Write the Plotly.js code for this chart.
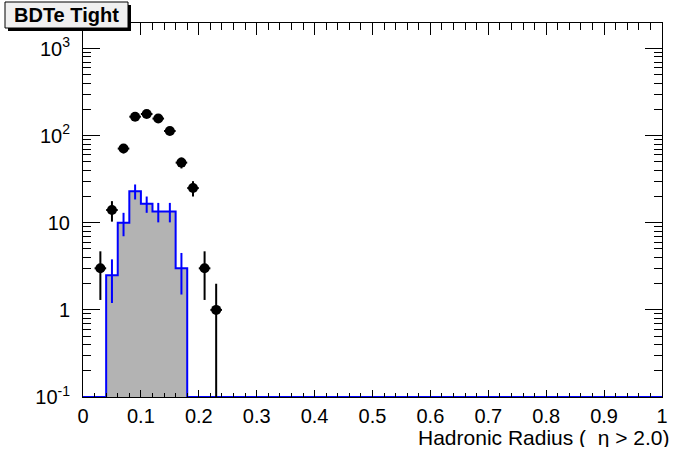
<!DOCTYPE html>
<html>
<head>
<meta charset="utf-8">
<script src="https://cdn.plot.ly/plotly-3.0.1.min.js"></script>
<style>html,body{margin:0;padding:0;background:#fff}#chart{width:696px;height:472px}</style>
</head>
<body>
<div id="chart"></div>
<script>
// ---- data ----
const histEdges = [0.04, 0.06, 0.08, 0.10, 0.12, 0.14, 0.16, 0.18];
const histValues = [2.5, 10, 23, 16.5, 13.5, 13.5, 3];
const histErrors = [1.3, 3.0, 4.5, 3.5, 3.4, 3.4, 1.5];
const histCenters = [0.05, 0.07, 0.09, 0.11, 0.13, 0.15, 0.17];

const dataCenters = [0.03, 0.05, 0.07, 0.09, 0.11, 0.13, 0.15, 0.17, 0.19, 0.21, 0.23];
const dataValues = [3, 14, 71, 165, 177, 157, 113, 49, 25, 3, 1];
const dataErrUp = [1.7, 3.7, 8.4, 12.8, 13.3, 12.5, 10.6, 7, 5, 1.7, 1];
const dataErrDown = [1.7, 3.7, 8.4, 12.8, 13.3, 12.5, 10.6, 7, 5, 1.7, 0.999];
const binHalfWidth = 0.01;

const yTickVals = [0.1, 1, 10, 100, 1000];
const yTickText = ['10<sup>-1</sup>', '1', '10', '10<sup>2</sup>', '10<sup>3</sup>'];
const xTickVals = [0, 0.1, 0.2, 0.3, 0.4, 0.5, 0.6, 0.7, 0.8, 0.9, 1];
const xTickText = ['0', '0.1', '0.2', '0.3', '0.4', '0.5', '0.6', '0.7', '0.8', '0.9', '1'];

const titleText = 'BDTe Tight';
const xTitleText = 'Hadronic Radius (  \u03b7 > 2.0)';

// ---- build step outline (closed at the axis floor) ----
const yMin = 0.1, xMin = 0, xMax = 1;
const stepX = [xMin, histEdges[0]], stepY = [yMin, yMin];
for (let i = 0; i < histValues.length; i++) {
  stepX.push(histEdges[i], histEdges[i + 1]);
  stepY.push(histValues[i], histValues[i]);
}
stepX.push(histEdges[histEdges.length - 1], xMax);
stepY.push(yMin, yMin);

const font = 'Liberation Sans, Arial, Helvetica, sans-serif';

const traces = [
  {
    x: stepX, y: stepY, mode: 'lines', type: 'scatter',
    line: {color: '#0000ff', width: 2}, fill: 'toself', fillcolor: '#b3b3b3',
    hoverinfo: 'skip', showlegend: false
  },
  {
    x: histCenters, y: histValues, mode: 'markers', type: 'scatter',
    marker: {size: 1, opacity: 0},
    error_y: {type: 'data', array: histErrors, color: '#0000ff', thickness: 2, width: 0},
    hoverinfo: 'skip', showlegend: false
  },
  {
    x: dataCenters, y: dataValues, mode: 'markers', type: 'scatter',
    marker: {size: 10, color: '#000000', symbol: 'circle'},
    error_y: {type: 'data', symmetric: false, array: dataErrUp, arrayminus: dataErrDown, color: '#000', thickness: 2, width: 0},
    error_x: {type: 'constant', value: binHalfWidth, color: '#000', thickness: 2, width: 0},
    showlegend: false
  },
  {
    x: [0.5], y: [1], xaxis: 'x2', yaxis: 'y2', mode: 'markers',
    marker: {opacity: 0}, hoverinfo: 'skip', showlegend: false
  }
];

const L = 83, R = 662, T = 23, B = 397, W = 696, H = 472;
const yTop = Math.log10(1000) + (48.5 - T) / ((B - 48.5) / 4);
const px = v => (v - L) / (R - L);
const py = v => (B - v) / (B - T);

const layout = {
  width: W, height: H,
  margin: {l: L, r: W - R, t: T, b: H - B, pad: 0},
  paper_bgcolor: '#fff', plot_bgcolor: '#fff',
  font: {family: font, color: '#000', size: 20},
  xaxis: {
    range: [0, 1], showgrid: false, zeroline: false,
    showline: true, linecolor: '#000', linewidth: 1, mirror: true,
    ticks: 'inside', ticklen: 7, tickwidth: 1, tickcolor: '#000',
    tickvals: xTickVals, ticktext: xTickText, ticklabelstandoff: 1,
    minor: {dtick: 0.02, tick0: 0, ticks: 'inside', ticklen: 4, tickcolor: '#000', showgrid: false},
    tickfont: {size: 20}
  },
  xaxis2: {
    overlaying: 'x', side: 'top', range: [0, 1], showgrid: false, zeroline: false,
    showline: false, ticks: 'inside', ticklen: 12, tickwidth: 1, tickcolor: '#000',
    dtick: 0.1, tick0: 0, showticklabels: false,
    minor: {dtick: 0.02, tick0: 0, ticks: 'inside', ticklen: 7, tickcolor: '#000', showgrid: false}
  },
  yaxis: {
    type: 'log', range: [-1, yTop], showgrid: false, zeroline: false,
    showline: true, linecolor: '#000', linewidth: 1, mirror: 'ticks',
    ticks: 'inside', ticklen: 17, tickwidth: 1, tickcolor: '#000',
    tickvals: yTickVals, ticktext: yTickText, ticklabelstandoff: 8,
    tickfont: {size: 20}
  },
  yaxis2: {
    overlaying: 'y', type: 'log', range: [-1, yTop], showgrid: false, zeroline: false,
    showline: false, mirror: 'ticks', ticks: 'inside', ticklen: 8, tickwidth: 1, tickcolor: '#000',
    dtick: 'D1', showticklabels: false
  },
  shapes: [
    {type: 'rect', xref: 'paper', yref: 'paper', x0: px(8), x1: px(131), y0: py(5), y1: py(31),
      fillcolor: '#000', line: {width: 0}, layer: 'above'},
    {type: 'rect', xref: 'paper', yref: 'paper', x0: px(5), x1: px(128), y0: py(2), y1: py(28),
      fillcolor: '#f0f0f0', line: {color: '#000', width: 1}, layer: 'above'}
  ],
  annotations: [
    {text: '<b>' + titleText + '</b>', xref: 'paper', yref: 'paper', x: px(66.5), y: py(15),
      xanchor: 'center', yanchor: 'middle', showarrow: false, font: {size: 20, family: font}},
    {text: xTitleText, xref: 'paper', yref: 'paper', x: px(672), y: py(437), height: 20,
      xanchor: 'right', yanchor: 'middle', showarrow: false, font: {size: 21, family: font}}
  ]
};

Plotly.newPlot('chart', traces, layout, {displayModeBar: false, staticPlot: true});
</script>
</body>
</html>
